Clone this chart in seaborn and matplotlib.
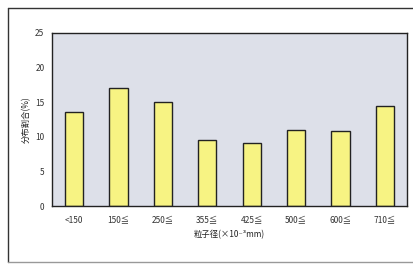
import seaborn as sns
import matplotlib.pyplot as plt
import pandas as pd
from matplotlib.lines import Line2D

sizes = ['<150', '150≦', '250≦', '355≦', '425≦', '500≦', '600≦', '710≦']
ratio = [13.6, 17.0, 15.0, 9.6, 9.1, 11.0, 10.9, 14.5]

df = pd.DataFrame({'size': sizes, 'ratio': ratio})

sns.set_style('white')
plt.rcParams['font.family'] = ['Noto Sans CJK JP', 'DejaVu Sans']

fig = plt.figure(figsize=(4.13, 2.64), dpi=100)
ax = fig.add_axes([52 / 413, 1 - 206 / 264, 355 / 413, 173 / 264])
ax.set_facecolor('#dde0e9')

sns.barplot(data=df, x='size', y='ratio', color='#f7f383', width=0.41,
            edgecolor='#222222', linewidth=1.0, saturation=1, ax=ax)

ax.set_xlim(-0.5, 7.5)
ax.set_ylim(0, 25)
ax.set_yticks([0, 5, 10, 15, 20, 25])
ax.tick_params(axis='both', labelsize=6, colors='#333333', length=2, width=0.6)
ax.tick_params(axis='x', pad=5)
ax.set_xlabel('粒子径(×10⁻³mm)', fontsize=6, color='#222222', labelpad=4)
ax.set_ylabel('分布割合(%)', fontsize=6, color='#222222', labelpad=3)
for s in ax.spines.values():
    s.set_linewidth(1.0)
    s.set_color('#222222')

# scan border
fig.add_artist(Line2D([8 / 413, 8 / 413], [2 / 264, 256 / 264], color='#333333', lw=1))
fig.add_artist(Line2D([8 / 413, 1], [256 / 264, 256 / 264], color='#333333', lw=1))
fig.add_artist(Line2D([8 / 413, 1], [2 / 264, 2 / 264], color='#999999', lw=1))

fig.savefig('out.png', dpi=100)
